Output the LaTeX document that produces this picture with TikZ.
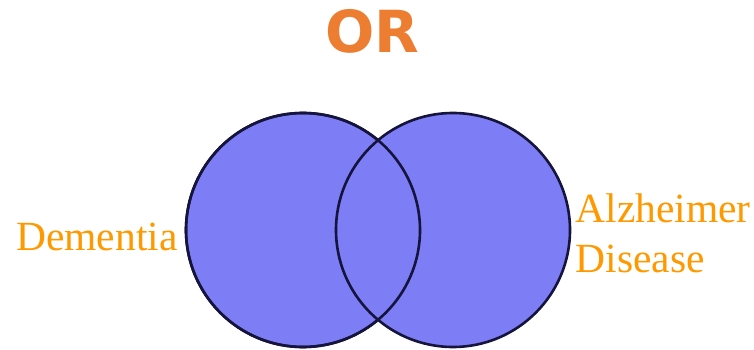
\documentclass[tikz,border=0pt]{standalone}
\usepackage{fontspec}
\setmainfont{Liberation Serif}
\newfontfamily\orfont{DejaVu Sans}
\usetikzlibrary{positioning}
\definecolor{orTitle}{HTML}{ED7D31}
\definecolor{setLabel}{HTML}{FF9900}
\definecolor{setFill}{HTML}{7D7DF5}
\definecolor{setEdge}{HTML}{14143C}

\begin{document}
\begin{tikzpicture}[x=1pt, y=-1pt,
  setcircle/.style={circle, fill=setFill, draw=setEdge, line width=2.6pt,
                    minimum size=234pt, inner sep=0pt},
  ring/.style={circle, draw=setEdge, line width=2.6pt,
               minimum size=234pt, inner sep=0pt},
  lbl/.style={text=setLabel, font=\fontsize{41.5}{50}\selectfont,
              inner sep=0pt, align=left}
]
\useasboundingbox[fill=white] (0,0) rectangle (754,350);
\node[text=orTitle, font=\orfont\bfseries\fontsize{58}{62}\selectfont,
      inner sep=0pt] (title) at (372,31) {OR};
% the two sets
\node[setcircle] (dementia) at (303,230) {};
\node[setcircle] (alz)      at (453,230) {};
\node[ring] (dementiaring) at (dementia) {};
\node[lbl, left=7pt of dementia.west, yshift=-7pt] (demlabel) {Dementia};
\node[lbl, right=4pt of alz.east, yshift=-3pt] (alzlabel) {Alzheimer\\Disease};
\end{tikzpicture}
\end{document}
